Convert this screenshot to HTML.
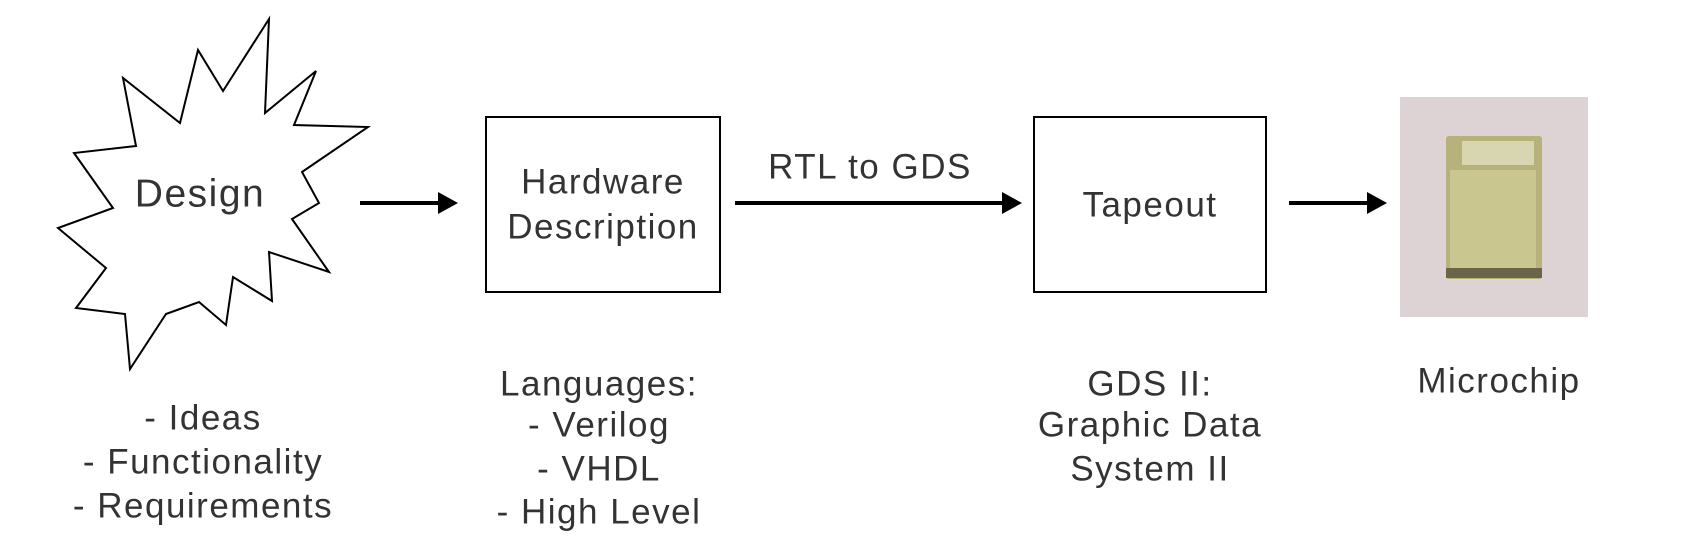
<!DOCTYPE html>
<html><head><style>
body{margin:0;background:#fff;}
svg text{font-family:"Liberation Sans",sans-serif;fill:#333;text-anchor:middle;dominant-baseline:central;letter-spacing:1.5px;}
</style></head><body>
<svg width="1700" height="541" xmlns="http://www.w3.org/2000/svg">
<polygon points="269,19 265,113 316,71 294,125 368,127 302,172 319,203 292,219 329,272 269,252 272,301 233,277 226,325 199,302 166,314 130,369 125,314 76,308 106,268 58,228 113,208 74,153 136,146 123,78 180,123 198,50 223,91" fill="#fff" stroke="#000" stroke-width="2"/>
<text x="200" y="194" font-size="39">Design</text>
<rect x="486" y="117" width="234" height="175" fill="#fff" stroke="#000" stroke-width="2"/>
<text x="603" y="182" font-size="35">Hardware</text>
<text x="603" y="227" font-size="35">Description</text>
<rect x="1034" y="117" width="232" height="175" fill="#fff" stroke="#000" stroke-width="2"/>
<text x="1150" y="205" font-size="35">Tapeout</text>
<text x="870" y="167" font-size="35">RTL to GDS</text>
<g stroke="#000" stroke-width="4"><line x1="360" y1="203" x2="443" y2="203"/><line x1="735" y1="203" x2="1006" y2="203"/><line x1="1289" y1="203" x2="1372" y2="203"/></g>
<g fill="#000"><polygon points="438,192 458,203 438,214"/><polygon points="1002,192 1022,203 1002,214"/><polygon points="1367,192 1387,203 1367,214"/></g>
<rect x="1400" y="97" width="188" height="220" fill="#ddd2d4"/>
<rect x="1446" y="136" width="96" height="143" rx="3" fill="#b6b27a"/>
<rect x="1450" y="170" width="86" height="100" fill="#c9c690"/>
<rect x="1462" y="141" width="72" height="24" fill="#d8d6b0"/>
<rect x="1446" y="268" width="96" height="10" fill="#6a6448"/>
<g font-size="35">
<text x="203" y="418">- Ideas</text>
<text x="203" y="462">- Functionality</text>
<text x="203" y="506">- Requirements</text>
<text x="599" y="384">Languages:</text>
<text x="599" y="425">- Verilog</text>
<text x="599" y="469">- VHDL</text>
<text x="599" y="512">- High Level</text>
<text x="1150" y="384">GDS II:</text>
<text x="1150" y="425">Graphic Data</text>
<text x="1150" y="469">System II</text>
<text x="1499" y="381">Microchip</text>
</g>
</svg>
</body></html>
